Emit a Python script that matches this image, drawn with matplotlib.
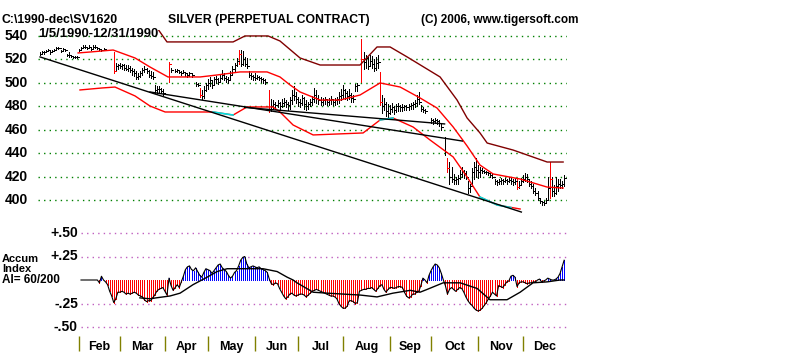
import numpy as np
import pandas as pd
import matplotlib
matplotlib.use("Agg")
import matplotlib.pyplot as plt

nan = np.nan
plt.rcParams['font.family'] = ['Liberation Sans', 'DejaVu Sans']
plt.rcParams['font.weight'] = 'bold'

# trading days of 1990 shown on the chart
days = pd.bdate_range("1990-01-05", "1990-12-31")

# daily bars: high / low / close (nan = no bar drawn)
hi = [526, 527, 527, 528, 529, 527, 528, 529, 531, 531, 528, 530, 529, 525, 526, 524, 523, 523, 523,  # Jan
      529, 531, 532, 532, 531, 532, 530, 532, 532, 531, 530, 529, 530, nan, nan, nan, nan, 526, 517, 516,  # Feb
      517, 516, 516, 515, 515, 514, 513, 512, 510, 508, 510, 513, 514, 513, 511, 510, 509, 498, 497, 497, 496, 495,  # Mar
      nan, nan, 518, 513, nan, 512, 512, 511, 510, 511, 509, 508, 509, 508, nan, 501, 500, 496, 494, 497, 500,  # Apr
      503, 505, 502, 505, 506, 504, 507, 511, 508, 506, 505, 510, 514, 517, 521, 528, 528, 527, 522, 521, 510, 508, 507,  # May
      508, 507, 506, 505, 504, 503, nan, 494, 486, 485, 484, 485, 484, 486, 487, 485, 484, 488, 494, 497, 492,  # Jun
      488, 486, 490, 488, 485, 484, 486, 489, 496, 494, 490, 488, 487, 488, 486, 487, 489, 486, 487, 488, 492, 495,  # Jul
      498, 495, 493, 495, 491, 490, 499, 500, nan, 537, 526, 524, 522, 524, 523, 520, 522, 524, 509, 490, 487, 484, 482,  # Aug
      481, 483, 480, 482, 483, 481, 482, 481, 481, 482, 483, 484, 485, 490, 492, 481, 479, 478, nan, nan,  # Sep
      470, 469, 470, 469, 468, 466, nan, 454, 436, 432, 428, 422, 420, 421, 426, 428, 426, 425, 416, 414, 427, 432, 436,  # Oct
      430, 428, 427, 426, 425, 424, 423, 422, 418, 417, 418, 419, 418, 419, 418, 420, 419, 418, 419, 418, 416, 419,  # Nov
      421, 423, 422, 418, 416, 414, 410, 408, 402, 399, 399, 402, 420, 432, 420, 413, 420, 418, 418, 416, 421]  # Dec
lo = [524, 525, 525, 526, 527, 525, 526, 527, 529, 529, 526, 528, 527, 523, 522, 522, 521, 521, 521,
      527, 529, 530, 530, 529, 530, 528, 530, 530, 529, 528, 527, 528, nan, nan, nan, nan, 508, 511, 512,
      513, 512, 511, 511, 510, 509, 507, 506, 503, 503, 505, 507, 509, 508, 505, 504, 503, 491, 491, 492, 491, 489,
      nan, nan, 501, 509, nan, 509, 509, 508, 507, 508, 506, 505, 506, 505, nan, 497, 497, 488, 486, 487, 493,
      495, 497, 496, 498, 500, 499, 501, 503, 502, 501, 500, 503, 507, 510, 514, 516, 514, 515, 514, 513, 505, 503, 502,
      502, 503, 502, 501, 500, 499, nan, 475, 476, 478, 478, 479, 478, 479, 480, 479, 477, 478, 482, 485, 483,
      480, 479, 481, 478, 477, 478, 480, 481, 484, 483, 482, 481, 481, 482, 481, 481, 482, 481, 481, 482, 483, 485,
      487, 486, 485, 486, 484, 484, 493, 493, nan, 501, 512, 513, 512, 514, 513, 510, 511, 513, 481, 474, 477, 472, 471,
      473, 475, 473, 475, 476, 476, 476, 477, 477, 477, 478, 478, 479, 480, 482, 476, 475, 474, nan, nan,
      466, 465, 466, 465, 463, 460, nan, 438, 424, 414, 415, 414, 414, 414, 418, 420, 419, 418, 406, 407, 412, 418, 420,
      419, 420, 423, 423, 422, 421, 420, 419, 414, 413, 414, 414, 414, 415, 414, 415, 414, 413, 414, 409, 410, 413,
      415, 416, 415, 412, 410, 406, 404, 400, 397, 396, 396, 397, 401, 402, 403, 403, 405, 408, 410, 410, 412]
cl = [525, 526, 526, 527, 528, 526, 527, 528, 530, 530, 527, 529, 528, 524, 524, 523, 522, 522, 522,
      528, 530, 531, 531, 530, 531, 529, 531, 531, 530, 529, 528, 529, nan, nan, nan, nan, 510, 514, 515,
      514, 515, 513, 512, 513, 511, 510, 508, 505, 506, 508, 511, 512, 510, 507, 506, 505, 494, 495, 495, 493, 491,
      nan, nan, 516, 511, nan, 510, 511, 509, 508, 509, 508, 507, 508, 507, nan, 499, 498, 490, 489, 494, 498,
      500, 502, 498, 503, 503, 501, 504, 507, 504, 503, 502, 507, 512, 515, 519, 525, 516, 520, 516, 514, 507, 506, 505,
      504, 505, 504, 503, 502, 501, nan, 478, 480, 482, 481, 483, 480, 483, 484, 482, 481, 485, 490, 489, 486,
      484, 483, 487, 482, 480, 482, 484, 486, 490, 487, 485, 484, 485, 486, 484, 485, 486, 484, 485, 486, 489, 490,
      494, 491, 489, 490, 487, 486, 497, 498, nan, 520, 518, 521, 514, 519, 516, 513, 517, 518, 484, 480, 482, 476, 474,
      478, 479, 477, 480, 480, 479, 479, 480, 479, 480, 481, 482, 483, 486, 484, 478, 477, 476, nan, nan,
      468, 467, 468, 467, 466, 462, nan, 441, 427, 420, 418, 417, 418, 419, 422, 425, 423, 420, 410, 412, 424, 428, 426,
      424, 426, 425, 424, 424, 423, 421, 420, 416, 415, 416, 417, 416, 417, 416, 417, 416, 415, 416, 411, 413, 416,
      418, 420, 418, 414, 412, 408, 406, 402, 399, 398, 397, 400, 410, 418, 408, 406, 412, 414, 413, 414, 419]
red_days = [36, 63, 78, 97, 112, 157, 166, 199, 233, 249]

# bands: (day index, price)
upper_x = [57.2, 62.0, 78.2, 94.3, 100.1, 111.4, 117.2, 127.0, 136.8, 156.3, 164.6, 171.0, 179.3,
           195.4, 203.7, 208.6, 214.9, 218.4, 231.1, 247.7, 255.5]
upper_y = [546.8, 534.9, 534.9, 534.9, 540.0, 540.0, 535.7, 521.2, 515.2, 515.2, 530.6, 530.6, 522.1,
           505.0, 485.3, 470.0, 457.2, 448.6, 442.6, 432.4, 432.4]
mid_x = [18.6, 24.4, 35.7, 46.4, 53.7, 62.5, 78.2, 86.5, 97.7, 110.9, 117.2, 122.1, 127.0, 136.8, 146.6,
         156.3, 166.1, 175.9, 185.6, 193.9, 201.8, 208.6, 214.9, 221.3, 234.5, 247.7, 255.5]
mid_y = [525.5, 526.3, 528.0, 521.2, 513.5, 505.0, 505.0, 506.7, 509.3, 509.3, 505.0, 498.2, 492.2, 485.3,
         485.3, 489.6, 499.9, 496.4, 487.1, 478.5, 462.3, 446.1, 429.8, 422.2, 417.9, 411.0, 410.2]
low_x = [19.5, 30.3, 36.6, 46.4, 53.7, 61.1, 84.5, 94.3, 101.1, 113.8, 117.2, 123.6, 133.4, 157.8, 166.1,
         172.4, 182.2, 190.5, 201.8, 208.6, 214.9, 223.3, 234.5]
low_y = [493.9, 495.6, 496.4, 488.8, 480.2, 475.1, 475.1, 472.5, 479.4, 479.4, 475.1, 464.0, 455.5, 457.2,
         468.3, 470.0, 462.3, 451.2, 436.7, 419.6, 402.5, 395.7, 392.3]
cyan_segs = [([84.5, 94.3], [475.1, 472.5]), ([166.1, 172.4], [468.3, 470.0]),
             ([214.9, 223.3, 230.0], [402.5, 395.7, 393.5])]

# trendlines: (x0, x1), (y0, y1)
trends = [((0, 235.1), (522.1, 389.7)),
          ((53.7, 206.3), (492.2, 450.3)),
          ((100.0, 197.6), (479.0, 464.9))]

price_ticks = [540, 520, 500, 480, 460, 440, 420, 400]

# accumulation index, daily from day 20
ai_start = 20
ai = [0, 0, 0, 0, 0, 0, 0, 0, 0, -0.03,
      0.04, 0.0, -0.02, -0.05, -0.12, -0.17, -0.24, -0.2, -0.13, -0.13,
      -0.12, -0.13, -0.15, -0.14, -0.15, -0.14, -0.13, -0.14, -0.16, -0.17,
      -0.18, -0.21, -0.23, -0.22, -0.22, -0.19, -0.16, -0.12, -0.1, -0.09,
      -0.08, -0.12, -0.16, 0.02, -0.06, -0.11, -0.08, -0.05, -0.08, -0.02,
      0.04, 0.11, 0.14, 0.15, 0.11, 0.1, 0.13, 0.09, 0.05, 0.03,
      0.08, 0.12, 0.11, 0.1, 0.07, 0.1, 0.13, 0.16, 0.17, 0.13,
      0.11, 0.09, 0.05, 0.02, 0.04, 0.08, 0.1, 0.15, 0.21, 0.24,
      0.25, 0.17, 0.13, 0.14, 0.15, 0.14, 0.13, 0.14, 0.12, 0.11,
      0.1, 0.08, 0.01, -0.04, -0.05, -0.03, -0.04, -0.09, -0.13, -0.17,
      -0.2, -0.18, -0.15, -0.14, -0.16, -0.17, -0.16, -0.15, -0.15, -0.16,
      -0.18, -0.16, -0.14, -0.12, -0.11, -0.1, -0.11, -0.12, -0.13, -0.14,
      -0.15, -0.16, -0.17, -0.17, -0.18, -0.2, -0.25, -0.28, -0.3, -0.3,
      -0.28, -0.22, -0.22, -0.23, -0.25, -0.24, -0.12, -0.11, -0.1, -0.1,
      -0.09, -0.09, -0.08, -0.1, -0.12, -0.09, -0.06, -0.05, -0.1, -0.13,
      -0.1, -0.08, -0.08, -0.09, -0.08, -0.07, -0.07, -0.08, -0.13, -0.17,
      -0.19, -0.18, -0.15, -0.15, -0.13, -0.12, -0.06, 0.02, 0.0, -0.03,
      0.05, 0.1, 0.14, 0.17, 0.16, 0.13, 0.07, 0.0, -0.06, -0.15,
      -0.1, -0.08, -0.1, -0.12, -0.1, -0.08, -0.09, -0.13, -0.18, -0.22,
      -0.25, -0.27, -0.3, -0.32, -0.33, -0.32, -0.3, -0.27, -0.24, -0.2,
      -0.17, -0.13, -0.15, -0.17, -0.06, -0.07, -0.08, -0.05, -0.02, -0.01,
      0.04, 0.05, 0.03, -0.07, -0.03, -0.02, -0.02, -0.03, -0.04, -0.03,
      -0.03, -0.02, -0.02, 0.0, 0.01, -0.02, -0.01, 0.0, 0.02, 0.01,
      0.0, 0.0, 0.01, 0.03, 0.07, 0.14, 0.21]
ma_x = [48.8, 53.7, 56.7, 63.5, 68.4, 74.7, 81.6, 86.5, 91.4, 101.1, 108.9, 115.8, 120.7, 123.6, 125.5,
        133.4, 140.2, 156.3, 164.6, 172.4, 180.8, 185.6, 189.1, 196.9, 205.2, 213.5, 219.8, 228.1, 234.5,
        240.8, 247.7, 254.0, 256.0]
ma_y = [-0.19, -0.2, -0.19, -0.17, -0.14, -0.05, 0.03, 0.09, 0.12, 0.12, 0.12, 0.09, 0.03, 0.0, -0.03,
        -0.13, -0.14, -0.16, -0.18, -0.14, -0.11, -0.13, -0.1, -0.03, -0.03, -0.09, -0.21, -0.21, -0.13,
        -0.03, -0.02, 0.0, 0.0]
ai_ticks = [0.5, 0.25, -0.25, -0.5]
ai_labels = ['+.50', '+.25', '-.25', '-.50']
months = ['Feb', 'Mar', 'Apr', 'May', 'Jun', 'Jul', 'Aug', 'Sep', 'Oct', 'Nov', 'Dec']

W, H = 800, 354
XL = (-1, 257.4)
fig = plt.figure(figsize=(W / 100, H / 100), dpi=100)

# ---- price panel
ax = fig.add_axes([38 / W, 1 - 215.2 / H, 529 / W, 185.1 / H])
ax.set_xlim(*XL)
ax.set_ylim(387, 545)
ax.axis('off')
ax.hlines(price_ticks, XL[0], XL[1], colors='#008000', linestyles=(0, (1, 3)), lw=1)
for p in price_ticks:
    ax.text(-0.019, p, str(p), transform=ax.get_yaxis_transform(), ha='right', va='center',
            fontsize=10, fontweight='bold')

x = np.arange(len(days))
hi, lo, cl = np.array(hi, float), np.array(lo, float), np.array(cl, float)
cols = np.array(['#ff0000' if i in red_days else 'black' for i in x])
ok = ~np.isnan(hi)
ax.vlines(x[ok], lo[ok], hi[ok], colors=cols[ok], lw=0.6, antialiased=False)
ax.hlines(cl[ok], x[ok], x[ok] + 1.0, colors=cols[ok], lw=0.6, antialiased=False)

ax.plot(upper_x, upper_y, color='#800000', lw=1)
ax.plot(mid_x, mid_y, color='#ff0000', lw=1)
ax.plot(low_x, low_y, color='#ff0000', lw=1)
for sx, sy in cyan_segs:
    ax.plot(sx, sy, color='#00e0e0', lw=1.2)
for (tx, ty) in trends:
    ax.plot(tx, ty, color='black', lw=1)

# ---- accumulation index panel
ax2 = fig.add_axes([38 / W, 1 - 336.4 / H, 529 / W, 112.8 / H])
ax2.set_xlim(*XL)
ax2.set_ylim(-0.6, 0.6)
ax2.axis('off')
ax2.hlines(ai_ticks, ai_start, XL[1], colors='#c060c0', linestyles=(0, (1, 3)), lw=1)
for v, s in zip(ai_ticks, ai_labels):
    ax2.text(40 / 529, v, s, transform=ax2.get_yaxis_transform(), ha='right', va='center',
             fontsize=10, fontweight='bold')
ai = np.array(ai)
ai_x = np.arange(ai_start, ai_start + len(ai))
pos = ai > 0
neg = ai < 0
ax2.vlines(ai_x[pos], 0, ai[pos], colors='#0000ff', lw=0.55, antialiased=False)
ax2.vlines(ai_x[neg], 0, ai[neg], colors='#ff0000', lw=0.55, antialiased=False)
ax2.plot(ai_x, ai, color='black', lw=0.8)
ax2.plot(ma_x, ma_y, color='black', lw=1)

# ---- month axis
ax3 = fig.add_axes([38 / W, 0, 529 / W, 18 / H])
ax3.set_xlim(*XL)
ax3.set_ylim(0, 1)
ax3.axis('off')
starts = [int(np.argmax(days.month == m)) for m in range(2, 13)]
ax3.vlines(starts, 0.15, 1.0, colors='#808000', lw=1)
ends = starts[1:] + [len(days)]
for s, e, m in zip(starts, ends, months):
    ax3.text((s + e) / 2, 0.4, m, ha='center', va='center', fontsize=9, fontweight='bold')

# ---- texts
def ftxt(px, py, s, size=9, **kw):
    fig.text(px / W, 1 - py / H, s, fontsize=size, fontweight='bold', va='baseline', **kw)

ftxt(2, 23, 'C:\\1990-dec\\SV1620', 8.8)
ftxt(168, 23, 'SILVER (PERPETUAL CONTRACT)', 8.8)
ftxt(421, 23, '(C) 2006, www.tigersoft.com', 8.5)
ftxt(38, 37, '1/5/1990-12/31/1990', 9.4)
ftxt(2, 262, 'Accum', 8)
ftxt(2, 272, 'Index', 8)
ftxt(2, 283, 'AI= 60/200', 8.5)

fig.savefig('out.png', dpi=100, facecolor='white')
